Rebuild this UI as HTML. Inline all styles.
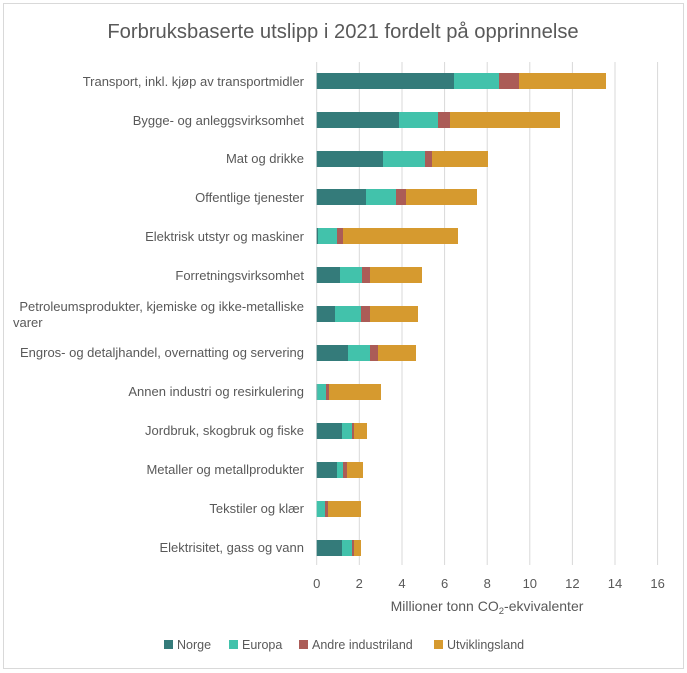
<!DOCTYPE html>
<html><head><meta charset="utf-8"><style>body{margin:0;background:#fff}svg{display:block;font-family:"Liberation Sans",sans-serif}</style></head><body>
<svg width="687" height="673" xmlns="http://www.w3.org/2000/svg">
<rect x="3.5" y="3.5" width="680" height="665" fill="#fff" stroke="#d9d9d9"/>
<text x="343" y="38" font-size="20.2" fill="#595959" text-anchor="middle">Forbruksbaserte utslipp i 2021 fordelt på opprinnelse</text>
<g stroke="#d9d9d9" stroke-width="1">
<line x1="316.7" y1="62" x2="316.7" y2="565"/><line x1="359.3" y1="62" x2="359.3" y2="565"/><line x1="402" y1="62" x2="402" y2="565"/><line x1="444.6" y1="62" x2="444.6" y2="565"/><line x1="487.2" y1="62" x2="487.2" y2="565"/><line x1="529.8" y1="62" x2="529.8" y2="565"/><line x1="572.4" y1="62" x2="572.4" y2="565"/><line x1="615" y1="62" x2="615" y2="565"/><line x1="657.6" y1="62" x2="657.6" y2="565"/>
</g>
<g font-size="13" fill="#595959" text-anchor="middle">
<text x="316.7" y="588">0</text><text x="359.3" y="588">2</text><text x="402" y="588">4</text><text x="444.6" y="588">6</text><text x="487.2" y="588">8</text><text x="529.8" y="588">10</text><text x="572.4" y="588">12</text><text x="615" y="588">14</text><text x="657.6" y="588">16</text>
<text x="487" y="611" font-size="14">Millioner tonn CO<tspan font-size="9.5" dy="3">2</tspan><tspan dy="-3">-ekvivalenter</tspan></text>
</g>
<g font-size="13" fill="#595959" text-anchor="end">
<text x="304" y="86">Transport, inkl. kjøp av transportmidler</text>
<text x="304" y="125">Bygge- og anleggsvirksomhet</text>
<text x="304" y="163">Mat og drikke</text>
<text x="304" y="202">Offentlige tjenester</text>
<text x="304" y="241">Elektrisk utstyr og maskiner</text>
<text x="304" y="280">Forretningsvirksomhet</text>
<text x="304" y="311">Petroleumsprodukter, kjemiske og ikke-metalliske</text>
<text x="13" y="327" text-anchor="start">varer</text>
<text x="304" y="357">Engros- og detaljhandel, overnatting og servering</text>
<text x="304" y="396">Annen industri og resirkulering</text>
<text x="304" y="435">Jordbruk, skogbruk og fiske</text>
<text x="304" y="474">Metaller og metallprodukter</text>
<text x="304" y="513">Tekstiler og klær</text>
<text x="304" y="552">Elektrisitet, gass og vann</text>
</g>
<g font-size="12.5" fill="#595959">
<rect x="164" y="640" width="9" height="9" fill="#347b7a"/><text x="177" y="649">Norge</text>
<rect x="229" y="640" width="9" height="9" fill="#42c2ab"/><text x="242" y="649">Europa</text>
<rect x="299" y="640" width="9" height="9" fill="#ab5c57"/><text x="312" y="649">Andre industriland</text>
<rect x="434" y="640" width="9" height="9" fill="#d69a2f"/><text x="447" y="649">Utviklingsland</text>
</g>
<g>
<rect x="316.7" y="73" width="137.3" height="16" fill="#347b7a"/><rect x="454" y="73" width="45" height="16" fill="#42c2ab"/><rect x="499" y="73" width="20" height="16" fill="#ab5c57"/><rect x="519" y="73" width="87" height="16" fill="#d69a2f"/>
<rect x="316.7" y="112" width="82.3" height="16" fill="#347b7a"/><rect x="399" y="112" width="39" height="16" fill="#42c2ab"/><rect x="438" y="112" width="12" height="16" fill="#ab5c57"/><rect x="450" y="112" width="110" height="16" fill="#d69a2f"/>
<rect x="316.7" y="151" width="66.3" height="16" fill="#347b7a"/><rect x="383" y="151" width="42" height="16" fill="#42c2ab"/><rect x="425" y="151" width="7" height="16" fill="#ab5c57"/><rect x="432" y="151" width="56" height="16" fill="#d69a2f"/>
<rect x="316.7" y="189" width="49.3" height="16" fill="#347b7a"/><rect x="366" y="189" width="30" height="16" fill="#42c2ab"/><rect x="396" y="189" width="10" height="16" fill="#ab5c57"/><rect x="406" y="189" width="71" height="16" fill="#d69a2f"/>
<rect x="316.7" y="228" width="1.3" height="16" fill="#347b7a"/><rect x="318" y="228" width="19" height="16" fill="#42c2ab"/><rect x="337" y="228" width="6" height="16" fill="#ab5c57"/><rect x="343" y="228" width="115" height="16" fill="#d69a2f"/>
<rect x="316.7" y="267" width="23.3" height="16" fill="#347b7a"/><rect x="340" y="267" width="22" height="16" fill="#42c2ab"/><rect x="362" y="267" width="8" height="16" fill="#ab5c57"/><rect x="370" y="267" width="52" height="16" fill="#d69a2f"/>
<rect x="316.7" y="306" width="18.3" height="16" fill="#347b7a"/><rect x="335" y="306" width="26" height="16" fill="#42c2ab"/><rect x="361" y="306" width="9" height="16" fill="#ab5c57"/><rect x="370" y="306" width="48" height="16" fill="#d69a2f"/>
<rect x="316.7" y="345" width="31.3" height="16" fill="#347b7a"/><rect x="348" y="345" width="22" height="16" fill="#42c2ab"/><rect x="370" y="345" width="8" height="16" fill="#ab5c57"/><rect x="378" y="345" width="38" height="16" fill="#d69a2f"/>
<rect x="316.7" y="384" width="0.6" height="16" fill="#347b7a"/><rect x="317.3" y="384" width="8.7" height="16" fill="#42c2ab"/><rect x="326" y="384" width="3" height="16" fill="#ab5c57"/><rect x="329" y="384" width="52" height="16" fill="#d69a2f"/>
<rect x="316.7" y="423" width="25.3" height="16" fill="#347b7a"/><rect x="342" y="423" width="10" height="16" fill="#42c2ab"/><rect x="352" y="423" width="2" height="16" fill="#ab5c57"/><rect x="354" y="423" width="13" height="16" fill="#d69a2f"/>
<rect x="316.7" y="462" width="20.3" height="16" fill="#347b7a"/><rect x="337" y="462" width="6" height="16" fill="#42c2ab"/><rect x="343" y="462" width="4" height="16" fill="#ab5c57"/><rect x="347" y="462" width="16" height="16" fill="#d69a2f"/>
<rect x="316.7" y="501" width="8.3" height="16" fill="#42c2ab"/><rect x="325" y="501" width="3" height="16" fill="#ab5c57"/><rect x="328" y="501" width="33" height="16" fill="#d69a2f"/>
<rect x="316.7" y="540" width="25.3" height="16" fill="#347b7a"/><rect x="342" y="540" width="10" height="16" fill="#42c2ab"/><rect x="352" y="540" width="2" height="16" fill="#ab5c57"/><rect x="354" y="540" width="7" height="16" fill="#d69a2f"/>
</g>
</svg>
</body></html>
